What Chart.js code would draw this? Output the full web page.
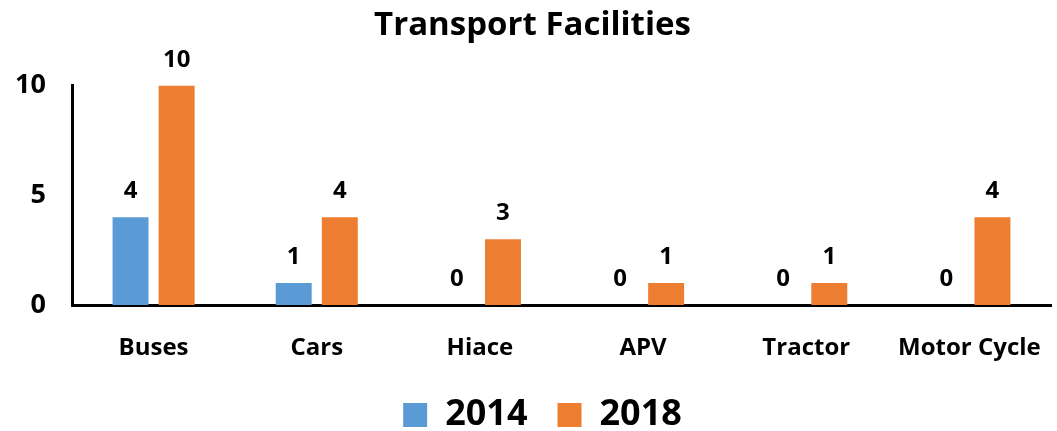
<!DOCTYPE html>
<html>
<head>
<meta charset="utf-8">
<script src="https://cdn.jsdelivr.net/npm/chart.js@4"></script>
<style>
  html, body { margin: 0; padding: 0; background: #fff; }
  #wrap { width: 1057px; height: 431px; }
</style>
</head>
<body>
<div id="wrap"><canvas id="barChart" width="1057" height="431"></canvas></div>
<script>
// chart data
const categories = ['Buses', 'Cars', 'Hiace', 'APV', 'Tractor', 'Motor Cycle'];
const values2014 = [4, 1, 0, 0, 0, 0];
const values2018 = [10, 4, 3, 1, 1, 4];
const yTicks = [0, 5, 10];

const fontFamily = '"Open Sans", sans-serif';

// draws the number above each bar (zeros included)
const valueLabels = {
    id: 'valueLabels',
    afterDatasetsDraw(chart) {
        const ctx = chart.ctx;
        ctx.save();
        ctx.font = `bold 24px ${fontFamily}`;
        ctx.fillStyle = '#000';
        ctx.textAlign = 'center';
        ctx.textBaseline = 'alphabetic';
        chart.data.datasets.forEach((ds, i) => {
            chart.getDatasetMeta(i).data.forEach((bar, j) => {
                ctx.fillText(ds.data[j], bar.x, bar.y - 19);
            });
        });
        ctx.restore();
    }
};

// nudge legend and title a bit to the right, like the original
const blockShift = {
    id: 'blockShift',
    afterLayout(chart) {
        chart.legend.left += 17;
        chart.legend.right += 17;
        if (chart.titleBlock) {
            chart.titleBlock.left += 7;
            chart.titleBlock.right += 7;
        }
    }
};

const ctx = document.getElementById('barChart').getContext('2d');
new Chart(ctx, {
    type: 'bar',
    data: {
        labels: categories,
        datasets: [
            { label: '2014', data: values2014, backgroundColor: '#5B9BD5', barPercentage: 0.78, categoryPercentage: 0.565 },
            { label: '2018', data: values2018, backgroundColor: '#ED7D31', barPercentage: 0.78, categoryPercentage: 0.565 }
        ]
    },
    options: {
        responsive: false,
        animation: false,
        layout: { padding: { left: 0, right: 6, top: 0, bottom: -12 } },
        plugins: {
            title: {
                display: true,
                text: 'Transport Facilities',
                color: '#000',
                font: { family: fontFamily, size: 33, weight: 'bold' },
                padding: { top: 6, bottom: 40 }
            },
            legend: {
                position: 'bottom',
                labels: {
                    color: '#000',
                    font: { family: fontFamily, size: 36, weight: 'bold' },
                    boxWidth: 24,
                    boxHeight: 24,
                    padding: 30
                }
            },
            tooltip: { enabled: false }
        },
        scales: {
            x: {
                afterFit(axis) {
                    axis.height = 62;
                    axis.paddingLeft = 0;
                    axis.paddingRight = 0;
                },
                grid: { display: false, drawTicks: false },
                border: { color: '#000', width: 3 },
                ticks: {
                    color: '#000',
                    font: { family: fontFamily, size: 24, weight: 'bold' },
                    padding: 29,
                    maxRotation: 0
                }
            },
            y: {
                min: 0,
                max: 10,
                afterBuildTicks(axis) {
                    axis.ticks = yTicks.map(v => ({ value: v }));
                },
                afterFit(axis) {
                    axis.width = 72;
                },
                grid: { display: false, drawTicks: false },
                border: { color: '#000', width: 3 },
                ticks: {
                    color: '#000',
                    font: { family: fontFamily, size: 27, weight: 'bold' },
                    padding: 26
                }
            }
        }
    },
    plugins: [valueLabels, blockShift]
});
</script>
</body>
</html>
